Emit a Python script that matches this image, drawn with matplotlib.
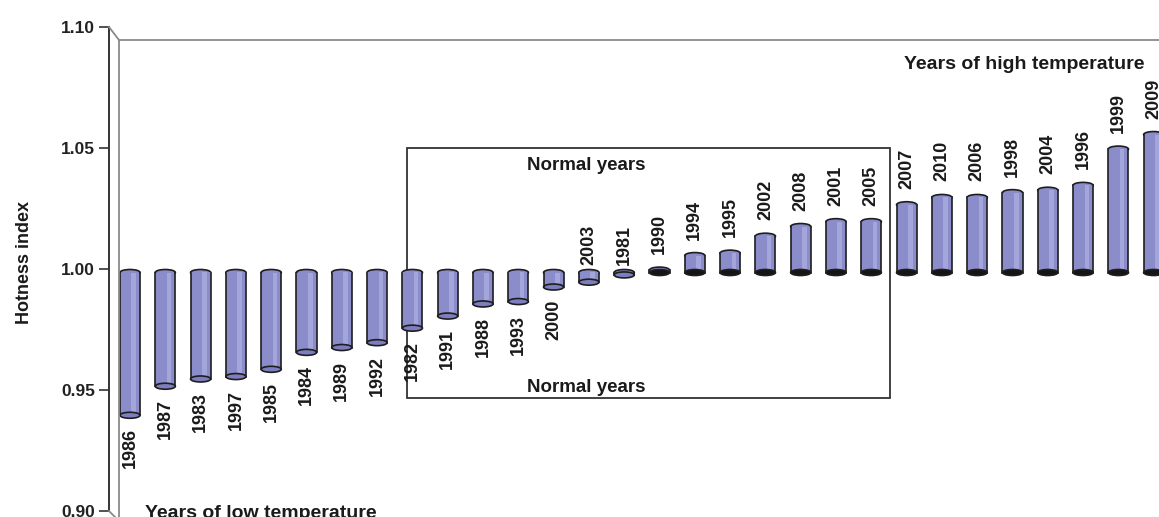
import matplotlib
matplotlib.use("Agg")
import matplotlib.pyplot as plt
from matplotlib.patches import Rectangle, Ellipse
from matplotlib.lines import Line2D

plt.rcParams['font.family'] = ['Liberation Sans', 'DejaVu Sans']
plt.rcParams['font.weight'] = 'bold'

# hotness index per year, sorted from coldest to hottest
years = ['1986', '1987', '1983', '1997', '1985', '1984', '1989', '1992', '1982', '1991',
         '1988', '1993', '2000', '2003', '1981', '1990', '1994', '1995', '2002', '2008',
         '2001', '2005', '2007', '2010', '2006', '1998', '2004', '1996', '1999', '2009']
hotness = [0.941, 0.953, 0.956, 0.957, 0.960, 0.967, 0.969, 0.971, 0.977, 0.982,
           0.987, 0.988, 0.994, 0.996, 0.999, 1.001, 1.007, 1.008, 1.015, 1.019,
           1.021, 1.021, 1.028, 1.031, 1.031, 1.033, 1.034, 1.036, 1.051, 1.057]
yticks = [0.90, 0.95, 1.00, 1.05, 1.10]

W, H = 1159, 517
fig = plt.figure(figsize=(W / 100, H / 100), dpi=100)


def fx(x):
    return x / W


def fy(y):
    return 1 - y / H


xlim = (-0.595, 29.15)
ylim = (0.90, 1.10)

# front axis with the ticks
ax = fig.add_axes([fx(109), fy(511), 1 - fx(109), (511 - 27) / H])
ax.set_xlim(*xlim)
ax.set_ylim(*ylim)
ax.patch.set_visible(False)
for s in ['top', 'right', 'bottom']:
    ax.spines[s].set_visible(False)
ax.spines['left'].set_color('#333333')
ax.spines['left'].set_linewidth(1.4)
ax.set_xticks([])
ax.set_yticks(yticks)
ax.set_yticklabels(['%.2f' % t for t in yticks])
ax.tick_params(axis='y', length=7, width=1.2, color='#333333', pad=3,
               labelsize=12.5, labelcolor='#222222')

# bars sit a little behind the front axis
shift = 3.5
bx = fig.add_axes([fx(109), fy(511 + shift), 1 - fx(109), (511 - 27) / H])
bx.set_xlim(*xlim)
bx.set_ylim(*ylim)
bx.axis('off')

# 3d wall outline
grey = '#8a8a8a'
for (x0, y0), (x1, y1) in [((109, 27), (119, 40)), ((119, 40), (W, 40)),
                           ((119, 40), (119, H)), ((109, 511), (115, H))]:
    fig.add_artist(Line2D([fx(x0), fx(x1)], [fy(y0), fy(y1)], color=grey, lw=1.3))

px_per_unit = (511 - 27) / 0.20
bw = 0.57
eh = 6 / px_per_unit
body = '#8b8cca'
light = '#a4a5da'
low = '#7d7ec0'
edge = '#1e1e1e'
gap = 13 / px_per_unit

for i, (yr, v) in enumerate(zip(years, hotness)):
    lo, hi = min(v, 1.0), max(v, 1.0)
    # rounded top
    bx.add_patch(Ellipse((i, hi), bw, eh, facecolor=body, edgecolor=edge, lw=1.2, zorder=2))
    bx.add_patch(Rectangle((i - bw / 2, lo), bw, hi - lo, facecolor=body, edgecolor='none', zorder=3))
    bx.add_patch(Rectangle((i + 0.04, lo), 0.13, hi - lo, facecolor=light, edgecolor='none', zorder=3))
    bx.plot([i - bw / 2, i - bw / 2], [lo, hi], color=edge, lw=1.2, zorder=4)
    bx.plot([i + bw / 2, i + bw / 2], [lo, hi], color=edge, lw=1.2, zorder=4)
    if v < 1.0:
        bx.add_patch(Ellipse((i, lo), bw, eh, facecolor=low, edgecolor=edge, lw=1.2, zorder=5))
    else:
        bx.add_patch(Ellipse((i, lo), bw, eh, facecolor='#151515', edgecolor=edge, lw=1.2, zorder=5))

    if v >= 1.0:
        bx.text(i, v + eh / 2 + gap, yr, rotation=90, ha='center', va='bottom',
                fontsize=13, fontweight='bold', color='#1a1a1a', zorder=6)
    elif v > 0.995:
        bx.text(i, 1.0 + 0.003, yr, rotation=90, ha='center', va='bottom',
                fontsize=13, fontweight='bold', color='#1a1a1a', zorder=6)
    else:
        bx.text(i, v - gap, yr, rotation=90, ha='center', va='top',
                fontsize=13, fontweight='bold', color='#1a1a1a', zorder=6)

# normal years box
ax.add_patch(Rectangle((7.85, 0.9467), 21.53 - 7.85, 1.05 - 0.9467, facecolor='none',
                       edgecolor='#333333', lw=1.3, zorder=1))
ax.text(12.93, 1.0409, 'Normal years', ha='center', va='baseline', fontsize=13.5,
        fontweight='bold', color='#1a1a1a')
ax.text(12.93, 0.9492, 'Normal years', ha='center', va='baseline', fontsize=13.5,
        fontweight='bold', color='#1a1a1a')
ax.text(28.75, 1.0826, 'Years of high temperature', ha='right', va='baseline',
        fontsize=14, fontweight='bold', color='#1a1a1a')
ax.text(0.425, 0.8971, 'Years of low temperature', ha='left', va='baseline',
        fontsize=14, fontweight='bold', color='#1a1a1a', clip_on=False)

fig.text(fx(25), fy(262), 'Hotness index', rotation=90, ha='center', va='center',
         fontsize=13, fontweight='bold', color='#1a1a1a')

fig.savefig('out.png', dpi=100)
